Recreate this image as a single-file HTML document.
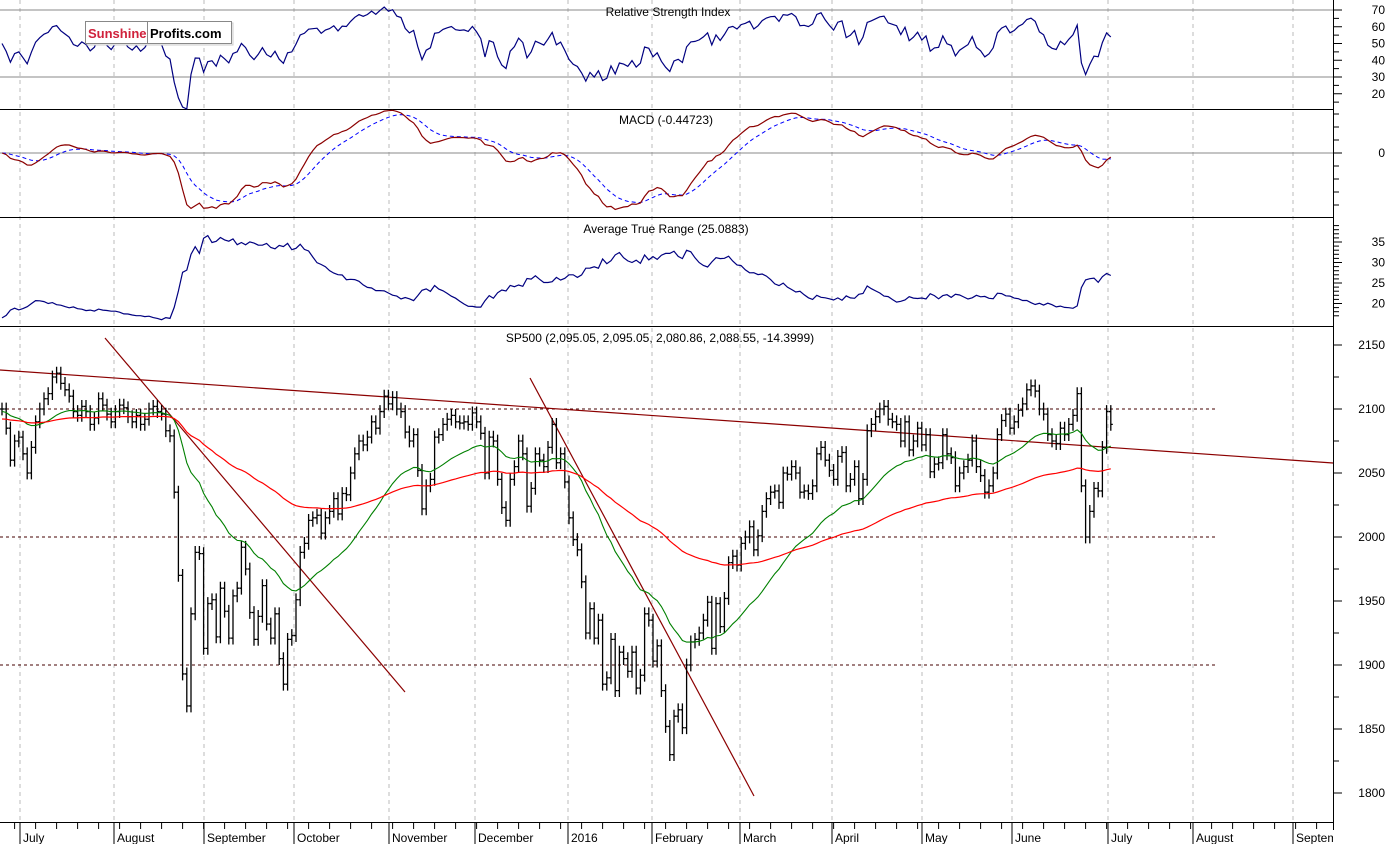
<!DOCTYPE html>
<html><head><meta charset="utf-8"><style>
body{margin:0;background:#fff;width:1390px;height:844px;overflow:hidden}
svg{display:block;font-family:"Liberation Sans",sans-serif}
</style></head><body>
<svg id="c" width="1390" height="844"></svg>
<script>
const months=["July","August","September","October","November","December","2016","February","March","April","May","June","July","August","September"];
const monthX=[20,114,204,294,389,475,568,652,740,832,922,1012,1108,1193,1293];
const priceTicks=[2150,2100,2050,2000,1950,1900,1850,1800];
const rsiTicks=[70,60,50,40,30,20];
const atrTicks=[35,30,25,20];
const closes=[2100,2085,2060,2075,
2078,2065,2050,2070,2090,2100,2108,2112,2125,2128,2120,2115,2110,2098,2095,2102,2098,2088,2093,2108,2103,2096,
2090,2098,2103,2101,2094,2090,2095,2088,2092,2100,2102,2098,2096,2083,2079,2035,1970,1893,1868,1940,1988,1987,
1913,1948,1951,1922,1960,1942,1921,1954,1960,1992,1975,1941,1920,1938,1962,1932,1921,1940,1905,1885,1920,
1923,1951,1988,1995,2013,2015,2017,2003,2015,2020,2030,2018,2034,2033,2050,2065,2075,2072,2078,2090,2085,2098,2110,
2104,2109,2100,2098,2082,2075,2080,2052,2022,2040,2045,2078,2080,2088,2092,2095,2090,2089,2090,2088,2097,
2090,2081,2050,2078,2075,2045,2023,2013,2045,2055,2075,2065,2024,2038,2065,2060,2055,2070,2088,2058,2065,2043,
2015,1998,1990,1965,1925,1944,1921,1935,1885,1890,1920,1880,1910,1905,1895,1910,1882,1892,1940,1935,
1903,1915,1880,1852,1830,1860,1865,1851,1900,1918,1920,1925,1935,1949,1913,1948,1930,1952,1980,1985,1978,
1995,2000,2008,1990,2001,2020,2030,2035,2036,2027,2050,2049,2055,2050,2035,2036,2034,2040,2065,2070,2060,2052,
2045,2063,2066,2040,2045,2055,2030,2045,2083,2088,2094,2100,2102,2092,2090,2088,2075,2090,2068,2075,2085,
2072,2080,2051,2057,2058,2080,2065,2062,2040,2050,2055,2060,2075,2055,2048,2035,2040,2050,2080,2091,2096,2085,
2090,2099,2104,2115,2118,2114,2100,2096,2080,2075,2073,2085,2080,2088,2095,2112,2040,2000,2020,2038,2036,2070,2098,2088];

const NS="http://www.w3.org/2000/svg",svg=document.getElementById('c');
function el(t,a,p){const e=document.createElementNS(NS,t);for(const k in a)e.setAttribute(k,a[k]);(p||svg).appendChild(e);return e;}
const R=1333;
const xOf=i=>2+i*4.2;
const yP=v=>409-(v-2100)*1.28;
const yR=v=>10+(70-v)*1.675;
const yM=v=>153-v*1.3;
const yA=v=>283-(v-25)*4.1;

const n=closes.length, hi=[], lo=[], op=[];
for(let i=0;i<n;i++){const p=i?closes[i-1]:closes[i];op.push(p);hi.push(Math.max(p,closes[i])+5);lo.push(Math.min(p,closes[i])-5);}
function ema(a,k){const r=[];let e=a[0];const al=2/(k+1);a.forEach(v=>{e=e+al*(v-e);r.push(e);});return r;}
function emaSeed(a,k,seed){const r=[];let e=seed;const al=2/(k+1);a.forEach(v=>{e=e+al*(v-e);r.push(e);});return r;}
const maFast=emaSeed(closes,30,2098), maSlow=emaSeed(closes,100,2092);
const e12=ema(closes,12),e26=ema(closes,26),macd=e12.map((v,i)=>v-e26[i]),sig=ema(macd,9);
const rsi=[];let ag=6,al=6;
for(let i=0;i<n;i++){const d=i?closes[i]-closes[i-1]:0;ag=(ag*13+Math.max(d,0))/14;al=(al*13+Math.max(-d,0))/14;rsi.push(100-100/(1+ag/al));}
const atr=[];let at=17;
for(let i=0;i<n;i++){const pc=i?closes[i-1]:closes[i];const tr=Math.max(hi[i]-lo[i],Math.abs(hi[i]-pc),Math.abs(lo[i]-pc));at=(at*13+tr)/14;atr.push(at);}

monthX.forEach((x,i)=>{const g=el('line',{x1:x,y1:0,x2:x,y2:822,stroke:'#bbb','stroke-dasharray':'4,4'});
});
[109,217,326,822].forEach(y=>{const l=el('line',{x1:0,y1:y+0.5,x2:R,y2:y+0.5,stroke:'#000'});
});
el('line',{x1:R+0.5,y1:0,x2:R+0.5,y2:830,stroke:'#000'});
function rtick(y,label,name,major){el('line',{x1:R,y1:y,x2:R+(major?9:6),y2:y,stroke:'#000'});
 if(label!==null){const t=el('text',{x:1385,y:y+4,'text-anchor':'end','font-size':12,fill:'#000'});t.textContent=label;
 }}
rsiTicks.forEach(v=>rtick(yR(v),v,'rsi-tick-label',true));
[65,55,45,35,25,15].forEach(v=>rtick(yR(v),null,'',false));
rtick(yM(0),'0','macd-tick-label',true);
[-40,-30,-20,-10,10,20,30].forEach(v=>rtick(yM(v),null,'',false));
atrTicks.forEach(v=>rtick(yA(v),v,'atr-tick-label',true));
for(let v=17;v<=40;v++)if(v%5)rtick(yA(v),null,'',false);
priceTicks.forEach(v=>rtick(yP(v),v,'price-tick-label',true));
for(let v=1800;v<=2150;v+=25)if(v%50)rtick(yP(v),null,'',false);
for(let i=3;i<n+75;i+=5){const x=xOf(i);if(x<R)el('line',{x1:x,y1:823,x2:x,y2:829,stroke:'#000'});}
const clip=el('clipPath',{id:'cp'});el('rect',{x:0,y:824,width:R,height:20},clip);
monthX.forEach((x,i)=>{el('line',{x1:x,y1:823,x2:x,y2:844,stroke:'#000'});
 const t=el('text',{x:x+3,y:842,'font-size':12,fill:'#000','clip-path':'url(#cp)'});t.textContent=months[i];
 });

el('line',{x1:0,y1:yR(70),x2:R,y2:yR(70),stroke:'#888'});
el('line',{x1:0,y1:yR(30),x2:R,y2:yR(30),stroke:'#888'});
function poly(arr,fy,attrs,name){const p=arr.map((v,i)=>xOf(i).toFixed(1)+','+fy(v).toFixed(1)).join(' ');
 const e=el('polyline',Object.assign({points:p,fill:'none'},attrs));return e;}
poly(rsi,yR,{stroke:'#000080','stroke-width':1.2},'rsi-line');
el('line',{x1:0,y1:yM(0),x2:R,y2:yM(0),stroke:'#888'});
poly(sig,yM,{stroke:'#0000ff','stroke-dasharray':'4,3'},'macd-signal-line');
poly(macd,yM,{stroke:'#8b0000','stroke-width':1.2},'macd-line');
poly(atr,yA,{stroke:'#000080','stroke-width':1.2},'atr-line');

[2100,2000,1900].forEach(v=>{const l=el('line',{x1:0,y1:yP(v),x2:1215,y2:yP(v),stroke:'#400','stroke-dasharray':'3,3'});
 });
[[0,370,R,463],[105,338,405,692],[530,378,754,796]].forEach(s=>{const l=el('line',{x1:s[0],y1:s[1],x2:s[2],y2:s[3],stroke:'#8b0000','stroke-width':1.2});
 });
const gb=el('g',{stroke:'#000','stroke-width':1.3});

for(let i=0;i<n;i++){const x=xOf(i);
 const b=el('path',{d:`M${x},${yP(hi[i])}V${yP(lo[i])}M${x-2},${yP(op[i])}H${x}M${x},${yP(closes[i])}H${x+2}`},gb);
 }
poly(maFast,yP,{stroke:'#008000','stroke-width':1.1},'ma-fast-line');
poly(maSlow,yP,{stroke:'#ff0000','stroke-width':1.2},'ma-slow-line');

function title(x,y,s,name){const t=el('text',{x:x,y:y,'text-anchor':'middle','font-size':12,fill:'#000'});t.textContent=s;
 }
title(668,16,'Relative Strength Index','rsi-title');
title(666,124,'MACD (-0.44723)','macd-title');
title(666,233,'Average True Range (25.0883)','atr-title');
title(660,342,'SP500 (2,095.05, 2,095.05, 2,080.86, 2,088.55, -14.3999)','price-title');

const lg=el('g',{});
el('rect',{x:87,y:23,width:146,height:22,fill:'#f8f8f8',stroke:'#ccc'},lg);
el('rect',{x:85.5,y:21.5,width:146,height:22,fill:'#fff',stroke:'#888'},lg);
el('line',{x1:147.5,y1:22,x2:147.5,y2:43,stroke:'#888'},lg);
const t1=el('text',{x:88,y:38,'font-size':13,'font-weight':'bold',fill:'#d0213b'},lg);t1.textContent='Sunshine';
const t2=el('text',{x:150,y:38,'font-size':13,'font-weight':'bold',fill:'#000'},lg);t2.textContent='Profits.com';
</script>
</body></html>
